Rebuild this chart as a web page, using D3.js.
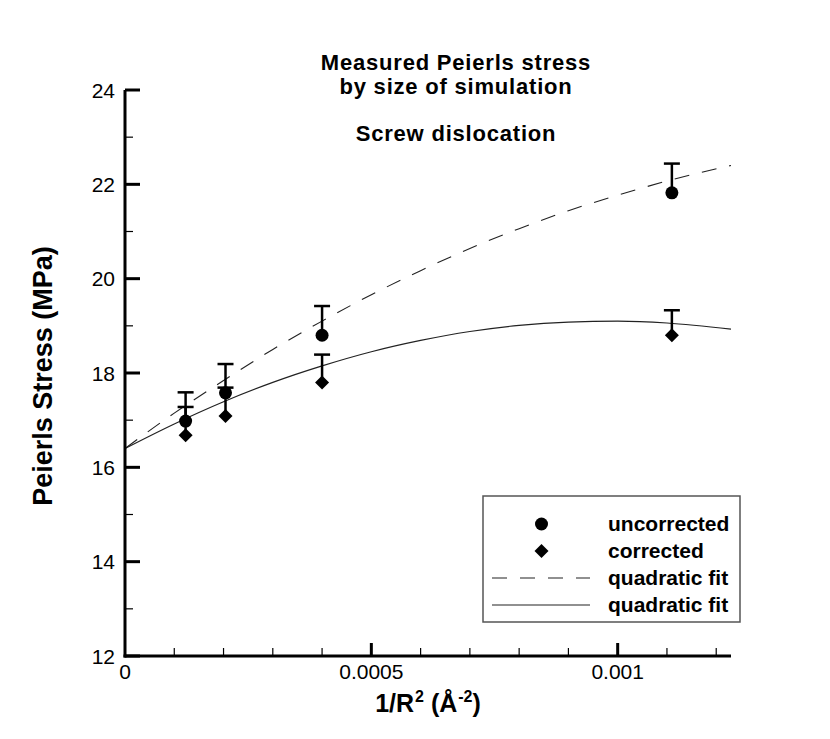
<!DOCTYPE html>
<html>
<head>
<meta charset="utf-8">
<script src="https://cdn.jsdelivr.net/npm/d3@7"></script>
<style>
  body { margin: 0; background: #fff; }
  svg text { font-family: "Liberation Sans", Arial, Helvetica, sans-serif; fill: #000; }
</style>
</head>
<body>
<div id="chart"></div>
<script>
// measured points (x = 1/R^2 in A^-2)
var sizeX = [0.000123, 0.000204, 0.0004, 0.00111];
var uncorrected = [16.98, 17.58, 18.8, 21.82];
var uncorrectedTop = [17.59, 18.19, 19.42, 22.44];
var corrected = [16.68, 17.09, 17.8, 18.8];
var correctedTop = [17.28, 17.69, 18.39, 19.33];

// fit curves
var fitX = [0, 0.0001, 0.0002, 0.0003, 0.0004, 0.0005, 0.0006, 0.0007, 0.0008, 0.0009, 0.001, 0.0011, 0.00123];
var fitDashed = [16.40, 17.15, 17.84, 18.50, 19.10, 19.66, 20.17, 20.64, 21.06, 21.44, 21.77, 22.07, 22.40];
var fitSolid = [16.40, 16.92, 17.39, 17.80, 18.15, 18.45, 18.69, 18.88, 19.01, 19.08, 19.10, 19.06, 18.93];

var yMajor = [12, 14, 16, 18, 20, 22, 24];
var yMinor = [13, 15, 17, 19, 21, 23];
var xMajor = [0, 0.0005, 0.001];
var xMajorLabels = ["0", "0.0005", "0.001"];
var xMinor = [0.0001, 0.0002, 0.0003, 0.0004, 0.0006, 0.0007, 0.0008, 0.0009, 0.0011, 0.0012];

var legendLabels = ["uncorrected", "corrected", "quadratic fit", "quadratic fit"];

var width = 830, height = 739;
var svg = d3.select("#chart").append("svg")
            .attr("width", width)
            .attr("height", height);

var xScale = d3.scaleLinear().domain([0, 0.00123]).range([125, 731]);
var yScale = d3.scaleLinear().domain([12, 24]).range([656, 90]);

/* title */
var title = svg.append("g").attr("font-weight", "bold").attr("font-size", 22)
               .attr("letter-spacing", 0.8).attr("text-anchor", "middle");
title.append("text").attr("x", 456).attr("y", 70).text("Measured Peierls stress");
title.append("text").attr("x", 456).attr("y", 93.5).text("by size of simulation");
title.append("text").attr("x", 456).attr("y", 141).text("Screw dislocation");

/* fit lines */
var line = d3.line()
             .x(function(d){ return xScale(d[0]); })
             .y(function(d){ return yScale(d[1]); })
             .curve(d3.curveMonotoneX);

svg.append("path")
   .attr("d", line(fitX.map(function(x, i){ return [x, fitDashed[i]]; })))
   .attr("fill", "none")
   .attr("stroke", "#222")
   .attr("stroke-width", 1.1)
   .attr("stroke-dasharray", "15,13");

svg.append("path")
   .attr("d", line(fitX.map(function(x, i){ return [x, fitSolid[i]]; })))
   .attr("fill", "none")
   .attr("stroke", "#222")
   .attr("stroke-width", 1.2);

/* error bars (upper only) */
function errorBars(vals, tops){
	var g = svg.append("g").attr("stroke", "#000").attr("stroke-width", 2.5);
	sizeX.forEach(function(x, i){
		g.append("line")
		 .attr("x1", xScale(x)).attr("x2", xScale(x))
		 .attr("y1", yScale(vals[i])).attr("y2", yScale(tops[i]));
		g.append("line")
		 .attr("x1", xScale(x) - 8).attr("x2", xScale(x) + 8)
		 .attr("y1", yScale(tops[i])).attr("y2", yScale(tops[i]));
	});
}
errorBars(uncorrected, uncorrectedTop);
errorBars(corrected, correctedTop);

var diamond = "M0,-7L7,0L0,7L-7,0Z";

svg.append("g").selectAll("circle")
   .data(sizeX).enter().append("circle")
   .attr("cx", function(d){ return xScale(d); })
   .attr("cy", function(d, i){ return yScale(uncorrected[i]); })
   .attr("r", 6.5)
   .attr("fill", "#000");

svg.append("g").selectAll("path")
   .data(sizeX).enter().append("path")
   .attr("d", diamond)
   .attr("transform", function(d, i){ return "translate(" + xScale(d) + "," + yScale(corrected[i]) + ")"; })
   .attr("fill", "#000");

/* axes */
var axisG = svg.append("g").attr("stroke", "#000");
axisG.append("line").attr("x1", 125).attr("x2", 125).attr("y1", yScale(24)).attr("y2", yScale(12) + 1.5).attr("stroke-width", 3);
axisG.append("line").attr("x1", 123.5).attr("x2", xScale(0.00123)).attr("y1", yScale(12)).attr("y2", yScale(12)).attr("stroke-width", 3);

axisG.selectAll(".ymaj").data(yMajor).enter().append("line")
     .attr("x1", 125).attr("x2", 140)
     .attr("y1", function(d){ return yScale(d); }).attr("y2", function(d){ return yScale(d); })
     .attr("stroke-width", 3);
axisG.selectAll(".ymin").data(yMinor).enter().append("line")
     .attr("x1", 125).attr("x2", 133)
     .attr("y1", function(d){ return yScale(d); }).attr("y2", function(d){ return yScale(d); })
     .attr("stroke-width", 1.2);
axisG.selectAll(".xmaj").data(xMajor.slice(1)).enter().append("line")
     .attr("x1", function(d){ return xScale(d); }).attr("x2", function(d){ return xScale(d); })
     .attr("y1", 656).attr("y2", 643)
     .attr("stroke-width", 3);
axisG.selectAll(".xmin").data(xMinor).enter().append("line")
     .attr("x1", function(d){ return xScale(d); }).attr("x2", function(d){ return xScale(d); })
     .attr("y1", 656).attr("y2", 648)
     .attr("stroke-width", 1.2);

svg.append("g").attr("font-size", 21).attr("text-anchor", "end")
   .selectAll("text").data(yMajor).enter().append("text")
   .attr("x", 115)
   .attr("y", function(d){ return yScale(d) + 7.5; })
   .text(function(d){ return d; });

svg.append("g").attr("font-size", 21).attr("text-anchor", "middle")
   .selectAll("text").data(xMajor).enter().append("text")
   .attr("x", function(d){ return xScale(d); })
   .attr("y", 679)
   .text(function(d, i){ return xMajorLabels[i]; });

/* axis titles */
svg.append("text")
   .attr("transform", "translate(52,376) rotate(-90)")
   .attr("text-anchor", "middle")
   .attr("font-weight", "bold")
   .attr("font-size", 27)
   .text("Peierls Stress (MPa)");

var xt = svg.append("text")
   .attr("x", 428).attr("y", 712)
   .attr("text-anchor", "middle")
   .attr("font-weight", "bold")
   .attr("font-size", 25);
xt.append("tspan").text("1/R");
xt.append("tspan").attr("font-size", 16).attr("dx", 1).attr("dy", -10).text("2");
xt.append("tspan").attr("dy", 10).text(" (Å");
xt.append("tspan").attr("font-size", 16).attr("dx", 1).attr("dy", -10).text("-2");
xt.append("tspan").attr("dy", 10).text(")");

/* legend */
var lg = svg.append("g");
lg.append("rect").attr("x", 483).attr("y", 496).attr("width", 257).attr("height", 126)
  .attr("fill", "#fff").attr("stroke", "#555").attr("stroke-width", 1.5);
var rowY = [524, 551, 578, 605];
lg.append("circle").attr("cx", 541.5).attr("cy", rowY[0]).attr("r", 6.5).attr("fill", "#000");
lg.append("path").attr("d", diamond).attr("transform", "translate(541.5," + rowY[1] + ")").attr("fill", "#000");
lg.append("line").attr("x1", 492).attr("x2", 590).attr("y1", rowY[2]).attr("y2", rowY[2])
  .attr("stroke", "#222").attr("stroke-width", 1.1).attr("stroke-dasharray", "15,13");
lg.append("line").attr("x1", 492).attr("x2", 590).attr("y1", rowY[3]).attr("y2", rowY[3])
  .attr("stroke", "#222").attr("stroke-width", 1.2);
lg.selectAll("text").data(legendLabels).enter().append("text")
  .attr("x", 608)
  .attr("y", function(d, i){ return rowY[i] + 7; })
  .attr("font-weight", "bold")
  .attr("font-size", 21)
  .text(function(d){ return d; });
</script>
</body>
</html>
